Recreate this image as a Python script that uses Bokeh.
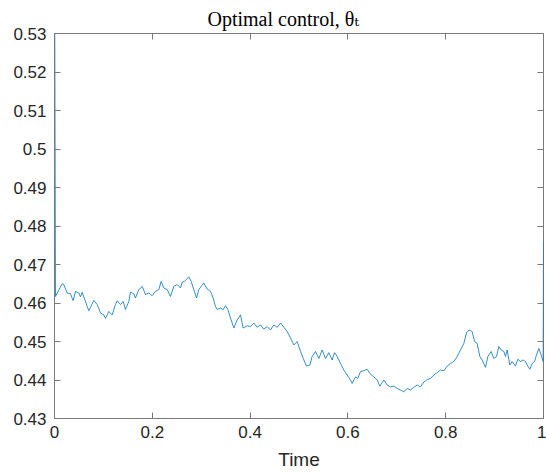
from bokeh.plotting import figure
from bokeh.models import Range1d, LinearAxis, FixedTicker, CustomJSTickFormatter
from bokeh.embed import file_html
from bokeh.resources import INLINE

time = [0.0, 0.002, 0.0157, 0.0191, 0.0259, 0.0327, 0.0382, 0.0429, 0.0498, 0.0532,
        0.0566, 0.0668, 0.0702, 0.0804, 0.0873, 0.0941, 0.1009, 0.1043, 0.1111, 0.1179,
        0.1247, 0.1282, 0.1350, 0.1404, 0.1452, 0.1520, 0.1554, 0.1622, 0.1656, 0.1725,
        0.1793, 0.1861, 0.1929, 0.1997, 0.2065, 0.2134, 0.2181, 0.2236, 0.2304, 0.2372,
        0.2440, 0.2509, 0.2577, 0.2611, 0.2658, 0.2747, 0.2795, 0.2849, 0.2904, 0.2952,
        0.2999, 0.3054, 0.3122, 0.3190, 0.3245, 0.3292, 0.3327, 0.3395, 0.3449, 0.3497,
        0.3545, 0.3599, 0.3667, 0.3736, 0.3804, 0.3858, 0.3940, 0.4008, 0.4076, 0.4145,
        0.4213, 0.4281, 0.4349, 0.4417, 0.4485, 0.4554, 0.4622, 0.4690, 0.4758, 0.4826,
        0.4894, 0.4963, 0.5031, 0.5099, 0.5153, 0.5222, 0.5269, 0.5337, 0.5406, 0.5474,
        0.5542, 0.5610, 0.5678, 0.5726, 0.5781, 0.5849, 0.5917, 0.5985, 0.6053, 0.6087,
        0.6155, 0.6203, 0.6258, 0.6326, 0.6394, 0.6449, 0.6530, 0.6599, 0.6653, 0.6735,
        0.6803, 0.6871, 0.6939, 0.7008, 0.7076, 0.7144, 0.7212, 0.7280, 0.7348, 0.7417,
        0.7485, 0.7553, 0.7621, 0.7689, 0.7757, 0.7826, 0.7894, 0.7962, 0.8030, 0.8098,
        0.8166, 0.8235, 0.8303, 0.8371, 0.8425, 0.8473, 0.8541, 0.8589, 0.8643, 0.8698,
        0.8746, 0.8814, 0.8862, 0.8930, 0.8984, 0.9039, 0.9087, 0.9134, 0.9189, 0.9223,
        0.9257, 0.9311, 0.9359, 0.9427, 0.9475, 0.9530, 0.9584, 0.9632, 0.9666, 0.9720,
        0.9768, 0.9816, 0.9857, 0.9905, 0.9952, 0.9993, 1.0]

theta = [0.56, 0.4617, 0.4650, 0.4648, 0.4626, 0.4624, 0.4606, 0.4630, 0.4626, 0.4616,
         0.4628, 0.4591, 0.4580, 0.4607, 0.4596, 0.4574, 0.4569, 0.4560, 0.4578, 0.4569,
         0.4596, 0.4606, 0.4596, 0.4604, 0.4583, 0.4604, 0.4628, 0.4624, 0.4613, 0.4635,
         0.4643, 0.4622, 0.4626, 0.4619, 0.4630, 0.4635, 0.4656, 0.4639, 0.4635, 0.4617,
         0.4643, 0.4648, 0.4639, 0.4654, 0.4656, 0.4668, 0.4656, 0.4635, 0.4613, 0.4635,
         0.4643, 0.4652, 0.4636, 0.4630, 0.4613, 0.4591, 0.4583, 0.4587, 0.4583, 0.4593,
         0.4583, 0.4561, 0.4535, 0.4556, 0.4569, 0.4535, 0.4541, 0.4539, 0.4548, 0.4537,
         0.4543, 0.4532, 0.4539, 0.4530, 0.4543, 0.4537, 0.4548, 0.4537, 0.4526, 0.4509,
         0.4491, 0.4500, 0.4474, 0.4452, 0.4436, 0.4439, 0.4461, 0.4474, 0.4456, 0.4478,
         0.4456, 0.4471, 0.4452, 0.4471, 0.4461, 0.4443, 0.4426, 0.4413, 0.4400, 0.4391,
         0.4408, 0.4404, 0.4422, 0.4424, 0.4428, 0.4417, 0.4408, 0.4400, 0.4384, 0.4400,
         0.4387, 0.4382, 0.4384, 0.4378, 0.4374, 0.4369, 0.4378, 0.4374, 0.4381, 0.4387,
         0.4382, 0.4395, 0.4401, 0.4404, 0.4413, 0.4419, 0.4426, 0.4424, 0.4436, 0.4443,
         0.4448, 0.4461, 0.4478, 0.4495, 0.4522, 0.4530, 0.4526, 0.4500, 0.4495, 0.4461,
         0.4452, 0.4433, 0.4461, 0.4474, 0.4456, 0.4461, 0.4487, 0.4478, 0.4474, 0.4461,
         0.4478, 0.4439, 0.4448, 0.4436, 0.4454, 0.4448, 0.4452, 0.4448, 0.4439, 0.4428,
         0.4443, 0.4448, 0.4465, 0.4482, 0.4465, 0.4448, 0.4761]

x_ticks = [0.0, 0.2, 0.4, 0.6, 0.8, 1.0]
x_tick_labels = ["0", "0.2", "0.4", "0.6", "0.8", "1"]
y_ticks = [0.43, 0.44, 0.45, 0.46, 0.47, 0.48, 0.49, 0.50, 0.51, 0.52, 0.53]
y_tick_labels = ["0.43", "0.44", "0.45", "0.46", "0.47", "0.48", "0.49", "0.5", "0.51", "0.52", "0.53"]

title_text = "Optimal control, \u03b8\u209c"
x_label = "Time"

AX = "#7a7a7a"
TXT = "#262626"
FONT = "Liberation Sans"

p = figure(width=546, height=474, x_range=Range1d(0, 1), y_range=Range1d(0.43, 0.53),
           output_backend="svg", toolbar_location=None,
           min_border_left=54, min_border_right=3, min_border_top=33, min_border_bottom=56)
p.background_fill_color = "white"
p.border_fill_color = "white"
p.outline_line_color = AX
p.outline_line_width = 1
p.xgrid.visible = False
p.ygrid.visible = False

p.title.text = title_text
p.title.align = "left"
p.title.offset = 153
p.title.text_font = "Liberation Serif, DejaVu Serif, DejaVu Sans, serif"
p.title.text_font_size = "20px"
p.title.text_font_style = "normal"
p.title.text_color = "black"
p.title.standoff = 8

p.line(time, theta, line_color="#0072BD", line_width=0.8)

for ax, ticks, labels in ((p.xaxis[0], x_ticks, x_tick_labels), (p.yaxis[0], y_ticks, y_tick_labels)):
    ax.ticker = FixedTicker(ticks=ticks)
    ax.major_label_overrides = {t: l for t, l in zip(ticks, labels)}
    ax.major_tick_in = 6
    ax.major_tick_out = 0
    ax.minor_tick_line_color = None
    ax.axis_line_color = AX
    ax.major_tick_line_color = AX
    ax.major_label_text_font = FONT
    ax.major_label_text_font_size = "17px"
    ax.major_label_text_color = TXT

p.yaxis[0].major_label_standoff = 8
p.xaxis[0].major_label_standoff = 7
p.xaxis[0].axis_label = x_label
p.xaxis[0].axis_label_text_font = FONT
p.xaxis[0].axis_label_text_font_size = "19px"
p.xaxis[0].axis_label_text_font_style = "normal"
p.xaxis[0].axis_label_text_color = TXT
p.xaxis[0].axis_label_standoff = 8

blank = CustomJSTickFormatter(code="return ''")
top = LinearAxis(ticker=FixedTicker(ticks=x_ticks), formatter=blank, major_tick_in=6, major_tick_out=0,
                 minor_tick_line_color=None, axis_line_color=None, major_tick_line_color=AX,
                 major_label_standoff=0, major_label_text_font_size="1px")
right = LinearAxis(ticker=FixedTicker(ticks=y_ticks), formatter=blank, major_tick_in=6, major_tick_out=0,
                   minor_tick_line_color=None, axis_line_color=None, major_tick_line_color=AX,
                   major_label_standoff=0, major_label_text_font_size="1px")
p.add_layout(top, "above")
p.add_layout(right, "right")

open("out.html", "w").write(file_html(p, INLINE))
